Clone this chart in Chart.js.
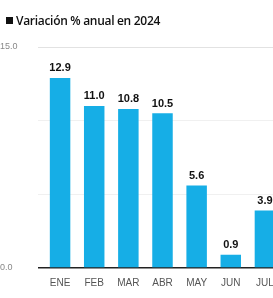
<!DOCTYPE html>
<html>
<head>
<meta charset="utf-8">
<script src="https://cdn.jsdelivr.net/npm/chart.js@4"></script>
<style>
  html, body { margin: 0; padding: 0; background: #fff; overflow: hidden; }
  #wrap { position: relative; width: 273px; height: 298px; overflow: hidden; }
  #legend { position: absolute; left: 6px; top: 12px; font: 600 12px "Open Sans", "Liberation Sans", sans-serif; color: #111; white-space: nowrap; letter-spacing: -0.3px; }
  #legend span { display: inline-block; width: 7px; height: 7px; background: #111; margin-right: 3px; vertical-align: 1px; }
  #chart { position: absolute; left: 0; top: 0; }
</style>
</head>
<body>
<div id="wrap">
  <canvas id="chart" width="282" height="298"></canvas>
  <div id="legend"><span></span>Variación % anual en 2024</div>
</div>
<script>
const months = ['ENE', 'FEB', 'MAR', 'ABR', 'MAY', 'JUN', 'JUL'];
const variation = [12.9, 11.0, 10.8, 10.5, 5.6, 0.9, 3.9];
const yTicks = [0, 5, 10, 15];
const yLabels = ['0.0', '', '', '15.0'];

const valueLabels = {
  id: 'valueLabels',
  afterDatasetsDraw(chart) {
    const ctx = chart.ctx;
    const meta = chart.getDatasetMeta(0);
    ctx.save();
    ctx.font = 'bold 11px "Liberation Sans", sans-serif';
    ctx.fillStyle = '#111';
    ctx.textAlign = 'center';
    ctx.textBaseline = 'bottom';
    meta.data.forEach((bar, i) => {
      ctx.fillText(variation[i].toFixed(1), bar.x, bar.y - 4);
    });
    ctx.restore();
  }
};

const ctx = document.getElementById('chart').getContext('2d');
new Chart(ctx, {
  type: 'bar',
  data: {
    labels: months,
    datasets: [{
      data: variation,
      backgroundColor: '#16aee6',
      barPercentage: 0.6,
      categoryPercentage: 1.0,
    }]
  },
  options: {
    responsive: false,
    animation: false,
    devicePixelRatio: 1,
    layout: { padding: { top: 47, right: 0, bottom: 0, left: 0 } },
    plugins: { legend: { display: false }, tooltip: { enabled: false } },
    scales: {
      x: {
        grid: { display: false },
        border: { display: false },
        ticks: {
          color: '#555',
          font: { size: 10, family: '"Liberation Sans Narrow", "Liberation Sans", sans-serif' },
          padding: 1,
          maxRotation: 0,
        },
        afterFit(scale) { scale.height = 30; }
      },
      y: {
        min: 0,
        max: 15,
        afterBuildTicks(scale) { scale.ticks = yTicks.map(v => ({ value: v })); },
        afterFit(scale) { scale.width = 43; },
        border: { display: false },
        grid: {
          color: ctx => ctx.tick && ctx.tick.value === 0 ? '#222' : (ctx.tick && ctx.tick.value === 15 ? '#e2e2e2' : '#f0f0f0'),
          lineWidth: ctx => ctx.tick && ctx.tick.value === 0 ? 1.5 : 1,
          tickLength: 5,
        },
        ticks: {
          color: '#888',
          font: { size: 9, family: '"Liberation Sans Narrow", "Liberation Sans", sans-serif' },
          crossAlign: 'far',
          padding: 4,
          callback: (v, i) => yLabels[i],
        }
      }
    }
  },
  plugins: [valueLabels]
});
</script>
</body>
</html>
